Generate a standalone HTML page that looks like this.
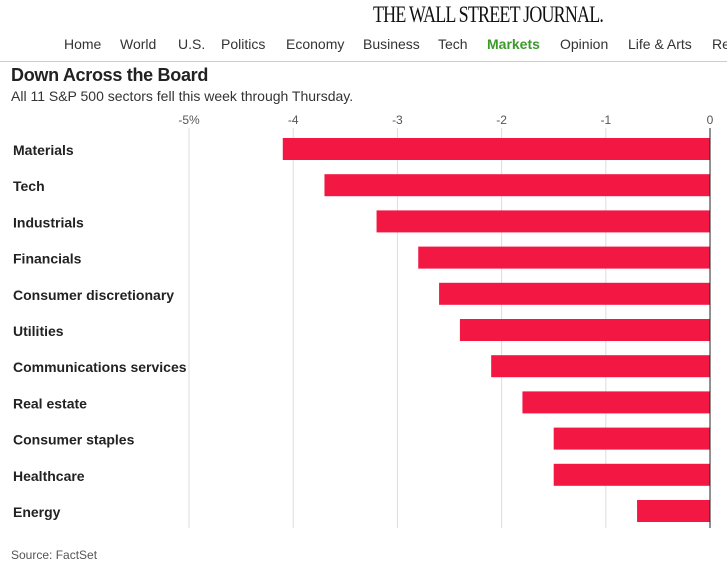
<!DOCTYPE html>
<html><head><meta charset="utf-8"><style>
body{margin:0;width:727px;height:573px;background:#fff;font-family:"Liberation Sans",sans-serif;overflow:hidden;position:relative}
.a{position:absolute;white-space:nowrap}
</style></head><body>
<div class="a" style="left:373px;top:2px;font-family:'Liberation Serif',serif;font-size:23px;letter-spacing:-1px;transform:scaleX(0.86);transform-origin:left;color:#111;transform:scaleX(0.78)">THE WALL STREET JOURNAL.</div>
<div style="position:absolute;left:0;top:35px;width:727px;height:26px;border-bottom:1px solid #ccc;font-size:14px;color:#333">
<span class="a" style="left:64px;top:1px">Home</span>
<span class="a" style="left:120px;top:1px">World</span>
<span class="a" style="left:178px;top:1px">U.S.</span>
<span class="a" style="left:221px;top:1px">Politics</span>
<span class="a" style="left:286px;top:1px">Economy</span>
<span class="a" style="left:363px;top:1px">Business</span>
<span class="a" style="left:438px;top:1px">Tech</span>
<span class="a" style="left:487px;top:1px;color:#3c9a2a;font-weight:bold">Markets</span>
<span class="a" style="left:560px;top:1px">Opinion</span>
<span class="a" style="left:628px;top:1px">Life &amp; Arts</span>
<span class="a" style="left:712px;top:1px">Re</span>
</div>
<div class="a" style="left:11px;top:65px;font-size:18px;font-weight:bold;color:#222;letter-spacing:-0.3px">Down Across the Board</div>
<div class="a" style="left:11px;top:88px;font-size:14px;color:#333">All 11 S&amp;P 500 sectors fell this week through Thursday.</div>
<svg id="c" width="727" height="573" style="position:absolute;left:0;top:0"></svg>
<div class="a" style="left:11px;top:548px;font-size:12px;color:#555">Source: FactSet</div>
<script>
const categories=["Materials","Tech","Industrials","Financials","Consumer discretionary","Utilities","Communications services","Real estate","Consumer staples","Healthcare","Energy"];
const values=[-4.1,-3.7,-3.2,-2.8,-2.6,-2.4,-2.1,-1.8,-1.5,-1.5,-0.7];
const ticks=[-5,-4,-3,-2,-1,0];
const tickLabels=["-5%","-4","-3","-2","-1","0"];
const svg=document.getElementById('c');const NS="http://www.w3.org/2000/svg";
const x=v=>710+v*104.2;
const yc=i=>149+i*36.2;
function mk(t,a){const e=document.createElementNS(NS,t);for(const k in a)e.setAttribute(k,a[k]);svg.appendChild(e);return e;}
ticks.forEach((t,i)=>{
const l=mk('line',{x1:x(t),x2:x(t),y1:128,y2:528,stroke:t===0?'#222':'#ddd','stroke-width':1});


const tx=mk('text',{x:x(t),y:124,'text-anchor':'middle','font-size':12,fill:'#555','font-family':'Liberation Sans, sans-serif'});
tx.textContent=tickLabels[i];


});
categories.forEach((c,i)=>{
const r=mk('rect',{x:x(values[i]),y:yc(i)-11,width:x(0)-x(values[i]),height:22,fill:'#f31744'});


const t=mk('text',{x:13,y:yc(i)+6,'font-size':14,'font-weight':'bold',fill:'#222','font-family':'Liberation Sans, sans-serif'});
t.textContent=c;


});
const z=mk('line',{x1:x(0),x2:x(0),y1:128,y2:528,stroke:'#222','stroke-width':1});


</script>
</body></html>
